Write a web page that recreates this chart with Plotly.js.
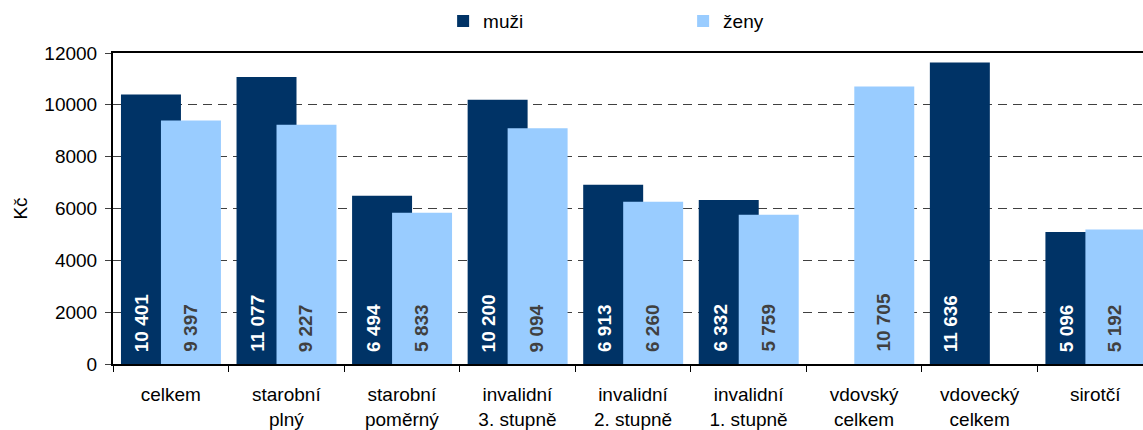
<!DOCTYPE html>
<html>
<head>
<meta charset="utf-8">
<script src="https://cdn.plot.ly/plotly-3.0.1.min.js"></script>
<style>
  html, body { margin: 0; padding: 0; background: #fff; overflow: hidden; }
  #chart { width: 1160px; height: 430px; }
</style>
</head>
<body>
<div id="chart"></div>
<script>
const categories = ['celkem', 'starobní<br>plný', 'starobní<br>poměrný', 'invalidní<br>3. stupně',
  'invalidní<br>2. stupně', 'invalidní<br>1. stupně', 'vdovský<br>celkem', 'vdovecký<br>celkem', 'sirotčí'];
const muzi = [10401, 11077, 6494, 10200, 6913, 6332, null, 11636, 5096];
const zeny = [9397, 9227, 5833, 9094, 6260, 5759, 10705, null, 5192];
const seriesNames = ['muži', 'ženy'];
const yTicks = [0, 2000, 4000, 6000, 8000, 10000, 12000];

const DARK = '#003366';
const LIGHT = '#99CCFF';
const FONT = 'Arial, "Liberation Sans", sans-serif';

function fmt(v) {
  return String(v).replace(/\B(?=(\d{3})+(?!\d))/g, ' ');
}

const barW = 0.519;
const traces = [
  { type: 'bar', name: seriesNames[0], x: categories, y: muzi,
    marker: { color: DARK }, width: barW, offset: -0.431, hoverinfo: 'skip' },
  { type: 'bar', name: seriesNames[1], x: categories, y: zeny,
    marker: { color: LIGHT }, width: barW, offset: -0.085, hoverinfo: 'skip' }
];

const annotations = [];
categories.forEach((c, i) => {
  if (muzi[i] != null) {
    annotations.push({ x: c, y: 0, xref: 'x', yref: 'y', text: fmt(muzi[i]),
      textangle: -90, showarrow: false, yanchor: 'bottom', xanchor: 'center',
      xshift: -29, yshift: 10, font: { family: FONT, size: 19, color: '#ffffff', weight: 'bold' } });
  }
  if (zeny[i] != null) {
    annotations.push({ x: c, y: 0, xref: 'x', yref: 'y', text: fmt(zeny[i]),
      textangle: -90, showarrow: false, yanchor: 'bottom', xanchor: 'center',
      xshift: 19, yshift: 10, font: { family: FONT, size: 19, color: '#404040', weight: 'bold' } });
  }
});

const layout = {
  width: 1160, height: 430,
  margin: { l: 113, r: 7, t: 53, b: 66 },
  paper_bgcolor: '#ffffff', plot_bgcolor: '#ffffff',
  font: { family: FONT, size: 19, color: '#000000' },
  barmode: 'overlay',
  showlegend: true,
  legend: {
    orientation: 'h', xref: 'container', yref: 'container',
    x: 0.382, xanchor: 'left', y: 0.995, yanchor: 'top',
    entrywidth: 195, font: { family: FONT, size: 19, color: '#000' },
    bgcolor: 'rgba(0,0,0,0)'
  },
  xaxis: {
    type: 'category', tickson: 'boundaries', ticks: 'outside', ticklen: 6,
    tickcolor: '#000', tickwidth: 1, ticklabelstandoff: 12,
    showline: true, linecolor: '#000', linewidth: 2, mirror: true,
    showgrid: false, zeroline: false,
    tickfont: { family: FONT, size: 19, color: '#000' },
    range: [-0.5, 8.5], fixedrange: true
  },
  yaxis: {
    range: [0, 12000], tickvals: yTicks, ticktext: yTicks.map(String),
    ticks: 'outside', ticklen: 6, tickcolor: '#404040', ticklabelstandoff: 4,
    showline: true, linecolor: '#000', linewidth: 2, mirror: true,
    showgrid: true, gridcolor: '#404040', gridwidth: 1, griddash: '9px,6px',
    zeroline: false,
    tickfont: { family: FONT, size: 19, color: '#000' },
    title: { text: 'Kč', font: { family: FONT, size: 19, color: '#000' }, standoff: 12 },
    fixedrange: true
  },
  annotations: annotations
};

Plotly.newPlot('chart', traces, layout, { displayModeBar: false, staticPlot: true });
</script>
</body>
</html>
